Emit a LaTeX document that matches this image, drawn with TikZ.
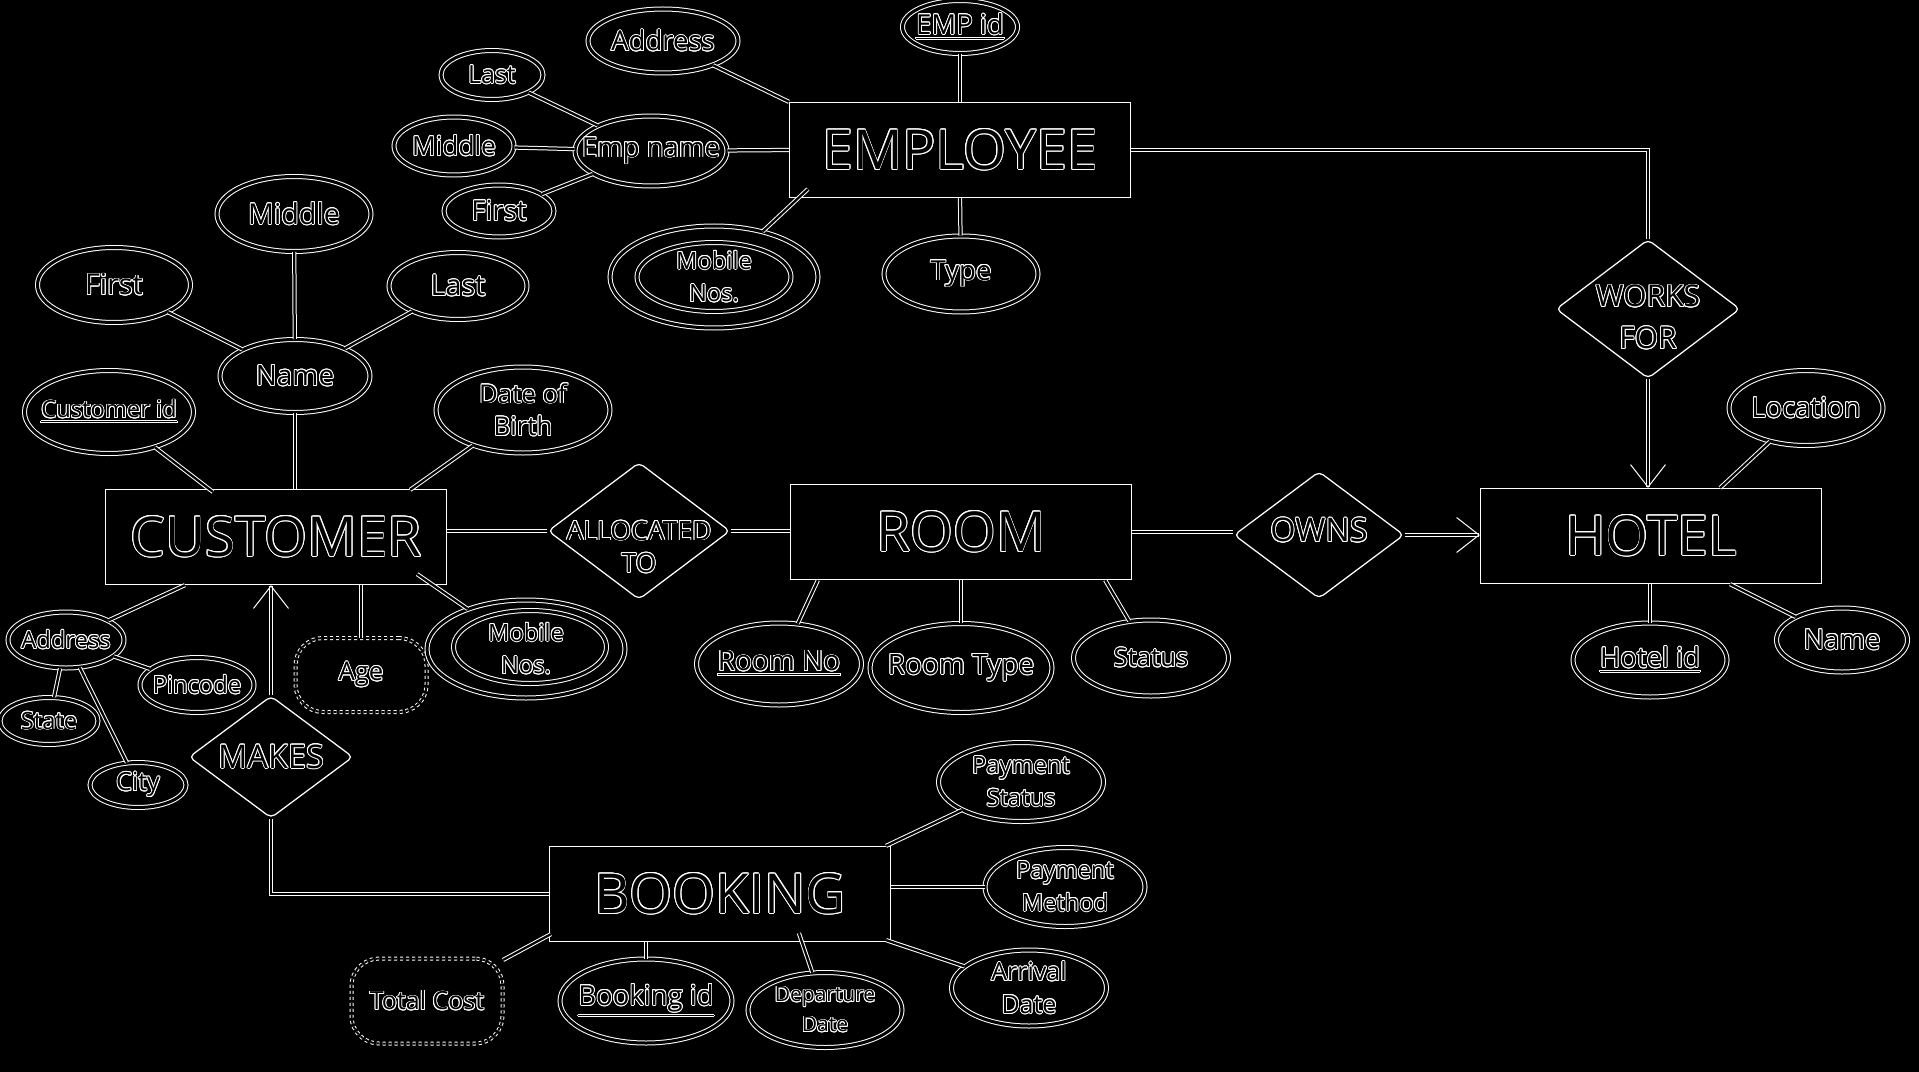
\documentclass[tikz,border=0pt]{standalone}
\usepackage{fontspec}
\setmainfont{Open Sans}
\usepackage{contour}
\contourlength{0.35pt}
\usetikzlibrary{shapes.geometric, calc, arrows.meta}

\newcommand\ol[1]{\makebox[0pt]{\contour{white}{#1}}}
\newcommand\fsz[1]{\fontsize{#1}{13}\selectfont}

\tikzset{
  entity/.style={rectangle, draw=white, line width=0.5pt, minimum width=136.4pt, minimum height=38pt, inner sep=0pt, font=\fontsize{22}{26}\selectfont},
  relation/.style={diamond, draw=white, line width=0.5pt, rounded corners=2pt, inner sep=0pt},
  reltext/.style={align=center, inner sep=0pt},
  attr/.style={ellipse, draw=white, line width=0.4pt, double=black, double distance=1.2pt, inner sep=0pt, align=center},
  derived/.style={rectangle, rounded corners=11pt, draw=white, line width=0.4pt, double=black, double distance=0.8pt, dash pattern=on 1.2pt off 1.2pt, inner sep=0pt, align=center},
  link/.style={draw=white, line width=0.4pt, double=black, double distance=0.9pt},
  linkarrow/.style={link, -{Straight Barb[length=9pt, width=14pt]}},
  wh/.style 2 args={minimum width=#1, minimum height=#2},
}

\begin{document}
\begin{tikzpicture}[x=0.4pt, y=-0.4pt]
    \fill[black] (0,0) rectangle (1919,1072);
    \useasboundingbox (0,0) rectangle (1919,1072);

    % entities
    \node[entity] (employee) at (960,150) {\ol{EMPLOYEE}};
    \node[entity] (customer) at (276,537) {\ol{CUSTOMER}};
    \node[entity] (room) at (961,532) {\ol{ROOM}};
    \node[entity] (hotel) at (1651,536) {\ol{HOTEL}};
    \node[entity] (booking) at (720,894) {\ol{BOOKING}};

    % relations
    \node[relation, wh={73.6pt}{55.6pt}, label={[reltext, yshift=-3.4pt, font=\fontsize{12}{16.7}\selectfont]center:{\ol{WORKS}\\\ol{FOR}}}] (worksfor) at (1648,309) {};
    \node[relation, wh={72.8pt}{54.8pt}, label={[reltext, yshift=-6.5pt, font=\fontsize{10.6}{13}\selectfont]center:{\ol{ALLOCATED}\\\ol{TO}}}] (allocated) at (639,531) {};
    \node[relation, wh={68pt}{50.8pt}, label={[reltext, yshift=1.8pt, font=\fsz{13}]center:{\ol{OWNS}}}] (owns) at (1319,535) {};
    \node[relation, wh={65.6pt}{48.8pt}, label={[reltext, font=\fsz{13}]center:{\ol{MAKES}}}] (makes) at (271,757) {};

    % employee attributes
    \node[attr, wh={46pt}{21.2pt}, font=\fsz{11}] (eid) at (960,27) {\ol{\underline{EMP id}}};
    \node[attr, wh={60pt}{25.6pt}, font=\fsz{11}] (eaddr) at (663,41) {\ol{Address}};
    \node[attr, wh={60.8pt}{28pt}, font=\fsz{11}] (ename) at (651,151) {\ol{Emp name}};
    \node[attr, wh={40.8pt}{19.6pt}, font=\fsz{10}] (elast) at (492,75) {\ol{Last}};
    \node[attr, wh={48pt}{23.2pt}, font=\fsz{10.5}] (emiddle) at (454,146) {\ol{Middle}};
    \node[attr, wh={44pt}{20.8pt}, font=\fsz{11}] (efirst) at (499,211) {\ol{First}};
    \node[attr, wh={61.6pt}{30.4pt}, font=\fsz{11}] (etype) at (961,274) {\ol{Type}};
    \node[attr, wh={83.2pt}{40.8pt}, font=\fsz{9.5}] (emobile) at (714,277) {\ol{Mobile}\\\ol{Nos.}};
    \node[attr, wh={61.6pt}{27.6pt}] (emobilein) at (714,277) {};

    % customer attributes
    \node[attr, wh={61.2pt}{30pt}, font=\fsz{11.5}] (cfirst) at (114,285) {\ol{First}};
    \node[attr, wh={61.6pt}{30pt}, font=\fsz{11.5}] (cmiddle) at (294,214) {\ol{Middle}};
    \node[attr, wh={55.2pt}{26.8pt}, font=\fsz{11.5}] (clast) at (458,286) {\ol{Last}};
    \node[attr, wh={60pt}{29.2pt}, font=\fsz{11.2}] (cname) at (295,376) {\ol{Name}};
    \node[attr, wh={67.6pt}{33.2pt}, font=\fsz{9.5}] (cid) at (109,412) {\ol{\underline{Customer id}}};
    \node[attr, wh={69.6pt}{34.4pt}, font=\fsz{10.3}] (cdob) at (523,410) {\ol{Date of}\\\ol{Birth}};
    \node[attr, wh={46.4pt}{22.4pt}, font=\fsz{9.5}] (caddr) at (66,640) {\ol{Address}};
    \node[attr, wh={45.6pt}{22pt}, font=\fsz{9.5}] (cpin) at (197,685) {\ol{Pincode}};
    \node[attr, wh={39.2pt}{18.8pt}, font=\fsz{9.5}] (cstate) at (49,721) {\ol{State}};
    \node[attr, wh={38.4pt}{18pt}, font=\fsz{10}] (ccity) at (138,785) {\ol{City}};
    \node[derived, wh={52.4pt}{29.6pt}, font=\fsz{10.3}] (cage) at (361,675) {\ol{Age}};
    \node[attr, wh={79.2pt}{39.2pt}, font=\fsz{9.5}] (cmobile) at (526,649) {\ol{Mobile}\\\ol{Nos.}};
    \node[attr, wh={61.2pt}{29.2pt}] (cmobilein) at (530,647) {};

    % room attributes
    \node[attr, wh={66pt}{32.8pt}, font=\fsz{11.2}] (rno) at (779,664) {\ol{\underline{Room No}}};
    \node[attr, wh={72.8pt}{35.6pt}, font=\fsz{11.2}] (rtype) at (961,668) {\ol{Room Type}};
    \node[attr, wh={62pt}{30.4pt}, font=\fsz{10.3}] (rstatus) at (1151,658) {\ol{Status}};

    % hotel attributes
    \node[attr, wh={61.6pt}{30pt}, font=\fsz{11}] (hloc) at (1806,408) {\ol{Location}};
    \node[attr, wh={52.4pt}{25.6pt}, font=\fsz{11}] (hname) at (1842,640) {\ol{Name}};
    \node[attr, wh={61.6pt}{29.6pt}, font=\fsz{11}] (hid) at (1650,660) {\ol{\underline{Hotel id}}};

    % booking attributes
    \node[attr, wh={66pt}{31.6pt}, font=\fsz{9.5}] (bpstatus) at (1021,782) {\ol{Payment}\\\ol{Status}};
    \node[attr, wh={64pt}{31.6pt}, font=\fsz{9.5}] (bpmethod) at (1065,887) {\ol{Payment}\\\ol{Method}};
    \node[attr, wh={62pt}{30.4pt}, font=\fsz{10}] (barrival) at (1029,988) {\ol{Arrival}\\\ol{Date}};
    \node[attr, wh={61.6pt}{30pt}, font=\fontsize{8.4}{12}\selectfont] (bdepart) at (825,1010) {\ol{Departure}\\\ol{Date}};
    \node[attr, wh={68.8pt}{33.6pt}, font=\fsz{11}] (bid) at (646,1001) {\ol{\underline{Booking id}}};
    \node[derived, wh={60.4pt}{34pt}, font=\fsz{10}] (bcost) at (427,1001) {\ol{Total Cost}};

    % employee links
    \draw[link] (eid) -- (employee.north);
    \draw[link] (eaddr) -- (employee.north west);
    \draw[link] (ename) -- (employee.west);
    \draw[link] (emobile) -- ($(employee.south west)+(19,-9)$);
    \draw[link] (etype) -- (employee.south);
    \draw[link] (elast) -- (ename);
    \draw[link] (emiddle) -- (ename);
    \draw[link] (efirst) -- (ename);
    \draw[link] (employee.east) -| (worksfor.north);
    \draw[linkarrow] (worksfor.south) -- (worksfor.south |- hotel.north);

    % customer links
    \draw[link] (cmiddle) -- (cname);
    \draw[link] (cfirst) -- (cname);
    \draw[link] (clast) -- (cname);
    \draw[link] (cname) -- (cname |- customer.north);
    \draw[link] (cid) -- ($(customer.north west)+(108,3)$);
    \draw[link] (cdob) -- ($(customer.north east)+(-37,1)$);
    \draw[link] (allocated.west -| customer.east) -- (allocated.west);
    \draw[link] (caddr) -- ($(customer.south west)+(80,0)$);
    \draw[link] (caddr) -- (cpin);
    \draw[link] (caddr) -- (cstate);
    \draw[link] (caddr) -- (ccity);
    \draw[link] (cage.north) -- (cage.north |- customer.south);
    \draw[link] (cmobile) -- ($(customer.south east)+(-30,-11)$);
    \draw[linkarrow] (makes.north) -- (makes.north |- customer.south);
    \draw[link] (booking.west) -| (makes.south);

    % room links
    \draw[link] (allocated.east) -- (allocated.east -| room.west);
    \draw[link] (room.east) -- (room.east -| owns.west);
    \draw[linkarrow] (owns.east) -- (owns.east -| hotel.west);
    \draw[link] (rno) -- ($(room.south west)+(28,0)$);
    \draw[link] (rtype) -- (rtype |- room.south);
    \draw[link] (rstatus) -- ($(room.south east)+(-27,0)$);

    % hotel links
    \draw[link] (hloc) -- ($(hotel.north east)+(-102,0)$);
    \draw[link] (hname) -- ($(hotel.south east)+(-92,0)$);
    \draw[link] (hid) -- (hid |- hotel.south);

    % booking links
    \draw[link] (bpstatus) -- ($(booking.north east)+(-5,0)$);
    \draw[link] (bpmethod.west) -- (bpmethod.west -| booking.east);
    \draw[link] (barrival) -- ($(booking.south east)+(-5,-2)$);
    \draw[link] (bdepart) -- ($(booking.south west)+(250,-9)$);
    \draw[link] (bid) -- (bid |- booking.south);
    \draw[link] (bcost) -- ($(booking.south west)+(2,-8)$);
\end{tikzpicture}
\end{document}
